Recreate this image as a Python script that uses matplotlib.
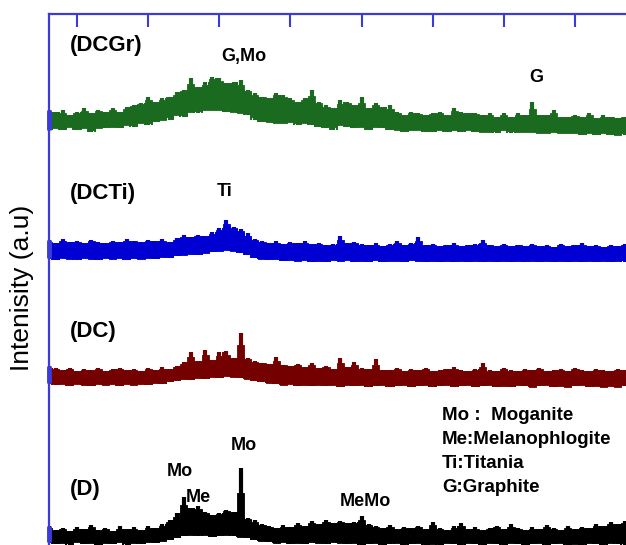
import matplotlib
matplotlib.use("Agg")
import matplotlib.pyplot as plt
import numpy as np

plt.rcParams['font.family'] = ['Liberation Sans', 'DejaVu Sans']

# 2-theta grid (deg), one value per degree
two_theta = np.arange(6, 88)

# upper / lower edge of each noisy pattern, intensity (a.u.) above its own baseline
dcgr_top = [25, 23, 25, 20, 23, 27, 22, 25, 23, 27,
            23, 28, 30, 32, 38, 33, 37, 38, 43, 45,
            57, 48, 53, 58, 57, 52, 53, 55, 45, 42,
            38, 37, 42, 40, 37, 33, 37, 45, 33, 30,
            27, 35, 33, 30, 38, 27, 32, 28, 30, 23,
            20, 23, 22, 20, 22, 23, 20, 27, 23, 22,
            22, 20, 22, 18, 22, 18, 22, 20, 33, 20,
            20, 25, 18, 18, 20, 18, 22, 17, 20, 18,
            17, 18]
dcgr_bot = [5, 7, 5, 8, 5, 7, 3, 7, 7, 8,
            7, 10, 8, 12, 10, 13, 15, 15, 20, 18,
            23, 22, 25, 25, 25, 23, 23, 22, 20, 15,
            13, 13, 12, 12, 13, 10, 12, 10, 8, 7,
            5, 10, 8, 7, 8, 5, 8, 7, 5, 5,
            3, 5, 5, 3, 3, 5, 3, 5, 3, 5,
            3, 3, 3, 2, 5, 2, 3, 3, 3, 2,
            2, 3, 2, 2, 2, 0, 2, 0, 2, 0,
            0, 0]

dcti_top = [23, 20, 24, 21, 22, 20, 23, 21, 20, 22,
            21, 24, 22, 21, 23, 22, 24, 21, 25, 28,
            26, 28, 27, 31, 35, 43, 36, 34, 30, 24,
            22, 20, 22, 19, 21, 20, 22, 19, 20, 18,
            19, 27, 20, 21, 19, 18, 20, 17, 19, 22,
            18, 20, 26, 18, 19, 17, 18, 20, 17, 18,
            19, 23, 18, 17, 19, 17, 18, 17, 19, 17,
            18, 16, 19, 17, 18, 20, 17, 18, 16, 18,
            17, 19]
dcti_bot = [5, 3, 5, 4, 3, 5, 4, 3, 5, 4,
            5, 3, 5, 4, 5, 4, 6, 5, 7, 8,
            9, 8, 10, 11, 12, 13, 12, 10, 8, 5,
            4, 3, 4, 2, 3, 2, 3, 1, 2, 1,
            3, 2, 3, 1, 2, 1, 3, 1, 2, 2,
            1, 3, 2, 1, 2, 1, 2, 1, 2, 1,
            2, 1, 2, 1, 2, 1, 2, 1, 2, 1,
            2, 1, 2, 1, 2, 1, 2, 1, 2, 1,
            2, 1]

dc_top = [22, 20, 18, 20, 17, 19, 18, 20, 17, 19,
          20, 18, 19, 17, 20, 18, 21, 19, 22, 26,
          36, 27, 38, 28, 36, 37, 30, 55, 30, 27,
          25, 24, 31, 23, 22, 24, 21, 25, 20, 22,
          19, 30, 21, 26, 20, 19, 29, 18, 18, 20,
          17, 19, 18, 20, 17, 18, 19, 21, 18, 17,
          19, 25, 18, 17, 20, 18, 17, 19, 18, 20,
          17, 18, 19, 17, 20, 18, 17, 19, 18, 17,
          19, 18]
dc_bot = [5, 3, 4, 2, 4, 3, 2, 4, 3, 4,
          2, 4, 3, 4, 3, 5, 4, 6, 7, 9,
          8, 10, 9, 11, 10, 12, 11, 10, 9, 7,
          6, 5, 4, 3, 4, 2, 3, 2, 3, 2,
          3, 1, 3, 2, 3, 1, 2, 3, 1, 2,
          3, 1, 2, 3, 1, 2, 3, 1, 2, 3,
          1, 2, 3, 1, 2, 1, 3, 2, 1, 2,
          3, 1, 2, 1, 2, 3, 1, 2, 1, 2,
          1, 2]

d_top = [22, 18, 20, 17, 21, 19, 23, 18, 20, 17,
         22, 19, 21, 18, 22, 20, 24, 28, 35, 51,
         40, 42, 36, 33, 35, 38, 36, 80, 30, 28,
         24, 22, 20, 23, 21, 25, 22, 27, 24, 28,
         25, 27, 25, 26, 32, 24, 22, 20, 23, 19,
         21, 20, 22, 19, 26, 20, 18, 22, 25, 19,
         21, 18, 20, 22, 19, 24, 20, 18, 21, 19,
         23, 20, 18, 22, 19, 21, 20, 24, 22, 26,
         24, 27]
d_bot = [6, 4, 5, 3, 6, 4, 5, 3, 5, 4,
         6, 3, 5, 4, 6, 5, 7, 8, 10, 12,
         13, 12, 13, 11, 12, 13, 12, 11, 10, 8,
         7, 6, 5, 6, 4, 5, 4, 6, 5, 4,
         6, 5, 4, 5, 3, 4, 5, 3, 4, 5,
         3, 4, 5, 3, 4, 3, 5, 4, 3, 5,
         4, 3, 5, 4, 3, 5, 4, 3, 4, 5,
         3, 4, 5, 3, 4, 3, 5, 4, 3, 5,
         4, 3]

sample_names = ["(DCGr)", "(DCTi)", "(DC)", "(D)"]
legend_lines = ["Mo :  Moganite", "Me:Melanophlogite", "Ti:Titania", "G:Graphite"]

# stacking offsets and colours
offsets = [410, 282, 157, -3]
fills = ["#1a6b1f", "#0000d2", "#740000", "#000000"]
tops = [dcgr_top, dcti_top, dc_top, d_top]
bots = [dcgr_bot, dcti_bot, dc_bot, d_bot]

axis_blue = "#3b3bdc"

fig = plt.figure(figsize=(6.26, 5.45), dpi=100)
ax = fig.add_axes([49 / 626, 0, 577 / 626, 531 / 545])

x0, x1 = 6.06, 87.17
for top, bot, off, fc in zip(tops, bots, offsets, fills):
    top = np.array(top) + off
    bot = np.array(bot) + off
    # solid body of the band, halfway between own edge and neighbours' edge
    nb_top = np.minimum(np.roll(top, 1), np.roll(top, -1))
    nb_bot = np.maximum(np.roll(bot, 1), np.roll(bot, -1))
    body_top = np.round((top + np.minimum(top, nb_top)) / 2)
    body_bot = np.round((bot + np.maximum(bot, nb_bot)) / 2)
    body_top = np.maximum(body_top, body_bot + 2)
    ax.fill_between(two_theta, body_bot, body_top, step='mid', facecolor=fc,
                    edgecolor=fc, linewidth=0.6)
    # spikes for the noise
    ax.vlines(two_theta, bot, top, color=fc, lw=3.0)
    ax.vlines(two_theta + 0.5, np.minimum(bot, np.roll(bot, -1)),
              np.minimum(top, np.roll(top, -1)), color=fc, lw=1.4)
    # little stub on the axis where the pattern starts
    ax.vlines(x0, bot[0], top[0], color=axis_blue, lw=3.5, clip_on=False, zorder=5)

ax.set_xlim(x0, x1)
ax.set_ylim(0, 531)

for s in ["right", "bottom"]:
    ax.spines[s].set_visible(False)
for s in ["top", "left"]:
    ax.spines[s].set_color(axis_blue)
    ax.spines[s].set_linewidth(1.6)

ax.xaxis.tick_top()
ax.set_xticks(np.arange(10, 81, 10))
ax.tick_params(axis='x', direction='in', length=9, width=1.5, colors=axis_blue,
               labeltop=False, labelbottom=False)
for t in ax.xaxis.get_major_ticks():
    if t.get_loc() == 80:
        t.tick2line.set_color("#555555")
ax.set_yticks([])

# sample labels
for name, y in zip(sample_names, [500, 351, 214, 56]):
    ax.text(9.0, y, name, fontsize=16, fontweight='bold', ha='left', va='center')

# peak labels
pk = dict(fontsize=13, fontweight='bold', ha='center', va='center')
ax.text(33.5, 488, "G,Mo", **pk)
ax.text(74.5, 467, "G", **pk)
ax.text(30.8, 353, "Ti", **pk)
ax.text(24.5, 74, "Mo", **pk)
ax.text(27.1, 48, "Me", **pk)
ax.text(33.5, 100, "Mo", **pk)
ax.text(50.6, 43, "MeMo", **pk)

for line, y in zip(legend_lines, [130, 105, 82, 58]):
    ax.text(61.3, y, line, fontsize=13.5, fontweight='bold', ha='left', va='center')

fig.text(22 / 626, 1 - 288 / 545, "Intenisity (a.u)", rotation=90,
         fontsize=19, ha='center', va='center')

fig.savefig("out.png", dpi=100)
